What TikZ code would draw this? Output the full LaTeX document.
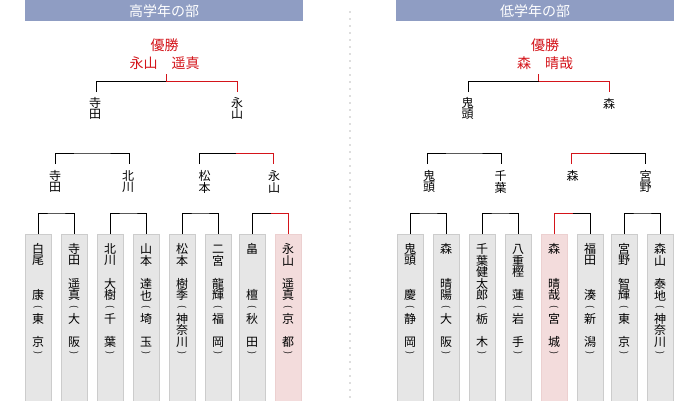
\documentclass[tikz,border=0pt]{standalone}
\usepackage{fontspec}
\usetikzlibrary{calc}
\setmainfont{Noto Sans CJK JP}
\definecolor{hdr}{RGB}{143,157,195}
\definecolor{win}{RGB}{212,20,26}
\definecolor{boxg}{RGB}{230,230,230}
\definecolor{boxb}{RGB}{204,204,204}
\definecolor{boxr}{RGB}{243,220,220}
\definecolor{boxrb}{RGB}{236,208,208}
\definecolor{dotc}{RGB}{222,222,222}
\tikzset{
  hdrbox/.style={fill=hdr, draw=none, minimum width=278pt, minimum height=21pt, inner sep=0pt, anchor=north west, text=white, font=\fontsize{14}{14}\selectfont},
  ch/.style={inner sep=0pt, anchor=center, font=\fontsize{12}{12}\selectfont},
  champ/.style={inner sep=0pt, anchor=center, text=win, font=\fontsize{14}{14}\selectfont},
  pbox/.style={draw=boxb, fill=boxg, line width=1pt, minimum width=26pt, minimum height=170pt, inner sep=0pt, anchor=north west},
  wbox/.style={pbox, draw=boxrb, fill=boxr},
  blk/.style={draw=black, line width=1pt},
  wline/.style={draw=win, line width=1pt},
  dotline/.style={draw=dotc, line width=1.6pt, dash pattern=on 2pt off 5pt}
}
% vertical-writing parentheses (opening and closing)
\newcommand\parop{{\fontsize{9}{9}\selectfont\rotatebox{-90}{(}}}
\newcommand\parcl{{\fontsize{9}{9}\selectfont\rotatebox{-90}{)}}}
% vertical stack of characters: #1 name prefix, #2 x, #3 first y, #4 pitch, #5 list
\newcommand\vstackchars[5]{%
  \foreach \c [count=\k from 0] in {#5} {\node[ch] (#1-\k) at (#2, {#3+#4*\k}) {\c};}}
\begin{document}
\begin{tikzpicture}[x=1pt, y=-1pt]
\useasboundingbox (0,0) rectangle (700,400);
\fill[white] (0,0) rectangle (700,400);

% headers
\node[hdrbox] (hL) at (25,0) {高学年の部};
\node[hdrbox] (hR) at (396,0) {低学年の部};

% separator
\coordinate (dtop) at (350,11);
\coordinate (dbot) at (350,400);
\draw[dotline] (dtop) -- (dbot);

% champions
\node[champ] (cL1) at (164.5,45) {優勝};
\node[champ] (cL2) at (164.5,63.3) {永山　遥真};
\node[champ] (cR1) at (545,45) {優勝};
\node[champ] (cR2) at (545,63.3) {森　晴哉};

% boxes left
\node[pbox] (b1) at (25,234) {};
\node[pbox] (b2) at (61,234) {};
\node[pbox] (b3) at (97,234) {};
\node[pbox] (b4) at (133,234) {};
\node[pbox] (b5) at (169,234) {};
\node[pbox] (b6) at (205,234) {};
\node[pbox] (b7) at (239,234) {};
\node[wbox] (b8) at (275,234) {};
% boxes right
\node[pbox] (b9) at (397,234) {};
\node[pbox] (b10) at (433,234) {};
\node[pbox] (b11) at (469,234) {};
\node[pbox] (b12) at (505,234) {};
\node[wbox] (b13) at (541,234) {};
\node[pbox] (b14) at (577,234) {};
\node[pbox] (b15) at (611,234) {};
\node[pbox] (b16) at (647,234) {};

% box texts
\vstackchars{t1}{38}{249}{11.6}{白,尾,,,康,\parop,東,,京,\parcl}
\vstackchars{t2}{74}{249}{11.6}{寺,田,,遥,真,\parop,大,,阪,\parcl}
\vstackchars{t3}{110}{249}{11.6}{北,川,,大,樹,\parop,千,,葉,\parcl}
\vstackchars{t4}{146}{249}{11.6}{山,本,,達,也,\parop,埼,,玉,\parcl}
\vstackchars{t5}{182}{249}{11.6}{松,本,,樹,季,\parop,神,奈,川,\parcl}
\vstackchars{t6}{218}{249}{11.6}{二,宮,,龍,輝,\parop,福,,岡,\parcl}
\vstackchars{t7}{252}{249}{11.6}{畠,,,,檀,\parop,秋,,田,\parcl}
\vstackchars{t8}{288}{249}{11.6}{永,山,,遥,真,\parop,京,,都,\parcl}
\vstackchars{t9}{410}{249}{11.6}{鬼,頭,,,慶,\parop,静,,岡,\parcl}
\vstackchars{t10}{446}{249}{11.6}{森,,,晴,陽,\parop,大,,阪,\parcl}
\vstackchars{t11}{482}{249}{11.6}{千,葉,健,太,郎,\parop,栃,,木,\parcl}
\vstackchars{t12}{518}{249}{11.6}{八,重,樫,,蓮,\parop,岩,,手,\parcl}
\vstackchars{t13}{554}{249}{11.6}{森,,,晴,哉,\parop,宮,,城,\parcl}
\vstackchars{t14}{590}{249}{11.6}{福,田,,,湊,\parop,新,,潟,\parcl}
\vstackchars{t15}{624}{249}{11.6}{宮,野,,智,輝,\parop,東,,京,\parcl}
\vstackchars{t16}{660}{249}{11.6}{森,山,,泰,地,\parop,神,奈,川,\parcl}

% level-2 names
\vstackchars{n1}{55}{176}{11.5}{寺,田}
\vstackchars{n2}{128}{176}{11.5}{北,川}
\vstackchars{n3}{204.5}{176}{11.5}{松,本}
\vstackchars{n4}{274}{176}{11.5}{永,山}
\vstackchars{n5}{429}{176}{11.5}{鬼,頭}
\vstackchars{n6}{500.5}{176}{11.5}{千,葉}
\vstackchars{n7}{572.5}{176}{11.5}{森}
\vstackchars{n8}{645.5}{176}{11.5}{宮,野}

% top names
\vstackchars{s1}{95}{102.5}{11.5}{寺,田}
\vstackchars{s2}{237}{102.5}{11.5}{永,山}
\vstackchars{s3}{467.5}{103}{11.5}{鬼,頭}
\vstackchars{s4}{609}{103.5}{11.5}{森}

% level-3 brackets (box tops up to y=213)
\foreach \a/\b/\m in {b1/b2/m1, b3/b4/m2, b5/b6/m3, b7/b8/m4, b9/b10/m5, b11/b12/m6, b13/b14/m7, b15/b16/m8} {
  \coordinate (\m) at ($(\a.north)!0.5!(\b.north)$);
}
\foreach \m in {m1,m2,m3,m4,m5,m6,m7,m8} {
  \coordinate (\m t) at ([yshift=21pt]\m);
}
\draw[blk] (b1.north) |- (m1t) -| (b2.north);
\draw[blk] (b3.north) |- (m2t) -| (b4.north);
\draw[blk] (b5.north) |- (m3t) -| (b6.north);
\draw[blk] (b7.north) |- (m4t);
\draw[wline] (m4t) -| (b8.north);
\draw[blk] (b9.north) |- (m5t) -| (b10.north);
\draw[blk] (b11.north) |- (m6t) -| (b12.north);
\draw[wline] (b13.north) |- (m7t);
\draw[blk] (m7t) -| (b14.north);
\draw[blk] (b15.north) |- (m8t) -| (b16.north);

% level-2 brackets (legs 164 -> 153)
\coordinate (k1) at (55,164);  \coordinate (k2) at (129,164);
\coordinate (k3) at (199,164); \coordinate (k4) at (273,164);
\coordinate (k5) at (427,164); \coordinate (k6) at (501,164);
\coordinate (k7) at (571,164); \coordinate (k8) at (645,164);
\coordinate (j1) at (92,153);  \coordinate (j2) at (235.5,153);
\coordinate (j3) at (464,153); \coordinate (j4) at (609.5,153);
\draw[blk] (k1) |- (j1) -| (k2);
\draw[blk] (k3) |- (j2);
\draw[wline] (j2) -| (k4);
\draw[blk] (k5) |- (j3) -| (k6);
\draw[wline] (k7) |- (j4);
\draw[blk] (j4) -| (k8);

% top brackets
\coordinate (f1) at (96,92);  \coordinate (f2) at (237,92);
\coordinate (f3) at (468,92); \coordinate (f4) at (609,92);
\coordinate (g1) at (166.3,81); \coordinate (g1t) at (166.3,74);
\coordinate (g2) at (538.7,81); \coordinate (g2t) at (538.7,74);
\draw[blk] (f1) |- (g1);
\draw[wline] (g1) -| (f2);
\draw[wline] (g1) -- (g1t);
\draw[blk] (f3) |- (g2);
\draw[wline] (g2) -| (f4);
\draw[wline] (g2) -- (g2t);
\end{tikzpicture}
\end{document}
